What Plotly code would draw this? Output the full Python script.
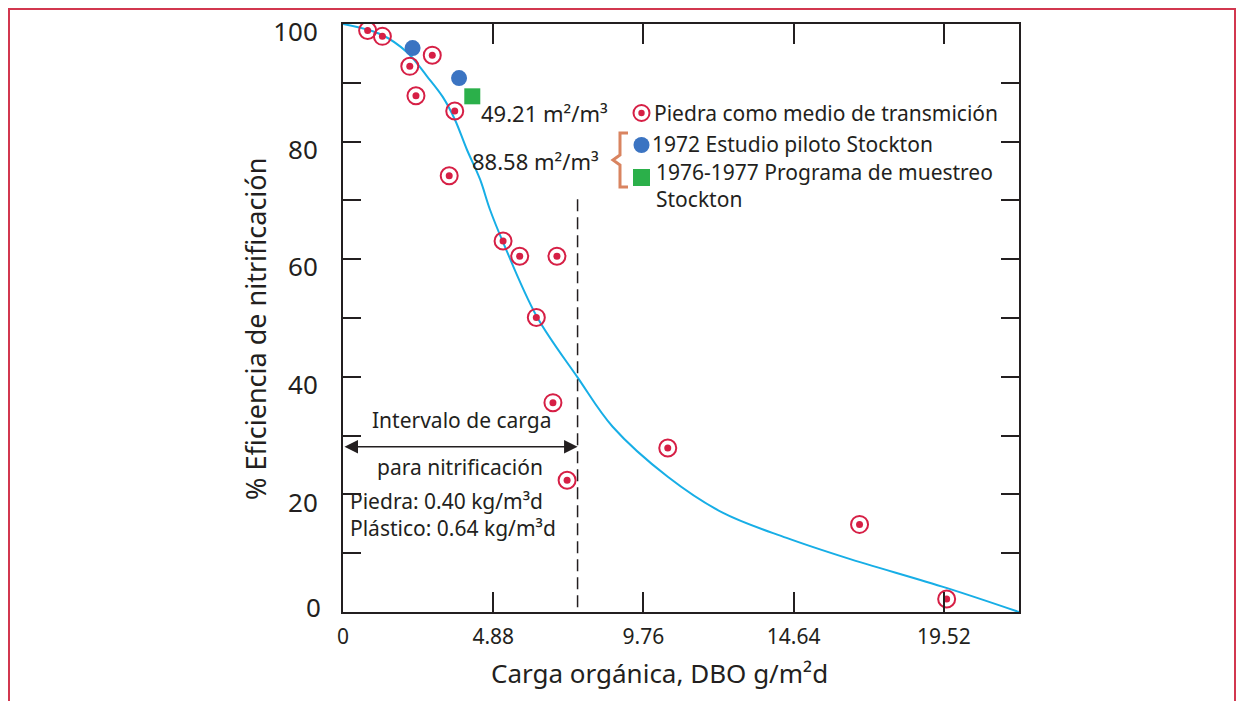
import plotly.graph_objects as go

# ---------------- data ----------------
piedra_x = [0.80, 1.28, 2.17, 2.90, 2.37, 3.63, 3.45, 5.20, 5.74, 6.95, 6.28, 6.82, 7.28, 10.55, 16.78, 19.61]
piedra_y = [98.9, 97.9, 92.8, 94.7, 87.8, 85.2, 74.2, 63.1, 60.5, 60.5, 50.1, 35.6, 22.4, 27.9, 14.9, 2.2]

piloto_x = [2.26, 3.77]
piloto_y = [95.9, 90.8]

muestreo_x = [4.20]
muestreo_y = [87.7]

curve_x = [0.0, 1.20, 2.08, 2.73, 3.24, 3.63, 4.02, 4.45, 4.77, 5.19, 6.29, 7.62, 8.76, 10.55, 12.33, 14.41, 16.35, 19.60, 21.96]
curve_y = [100.0, 98.3, 95.2, 91.1, 87.6, 83.8, 78.7, 73.6, 68.5, 63.0, 50.3, 39.9, 31.5, 23.0, 16.9, 12.6, 9.2, 4.1, 0.0]

limite_x = 7.62
limite_top = 70.2
flecha_y = 28.1

x_ticks = [0, 4.88, 9.76, 14.64, 19.52]
x_ticktext = ["0", "4.88", "9.76", "14.64", "19.52"]
y_ticks = [0, 10, 20, 30, 40, 50, 60, 70, 80, 90, 100]
y_ticktext = ["", "", "20", "", "40", "", "60", "", "80", "", "100"]
y_zero_label = "0"

X_RANGE = [0, 21.96]
Y_RANGE = [0, 100]

# ---------------- geometry (screen pixels; page body has an 8px margin) ----------------
OFF = 8
W, H = 1244 - 2 * OFF, 709 - 2 * OFF
L, R, T, B = 343, 1019, 24, 612


def px(xp):
    return (xp - L) / (R - L)


def py(yp):
    return (B - yp) / (B - T)


RED = "#d61f45"
FRAME = "#d2374f"
BLUE = "#3b74c2"
GREEN = "#2bb04a"
CYAN = "#17aee6"
DARK = "#231f20"
ORANGE = "#d98460"
FONT = "Noto Sans"

fig = go.Figure()

fig.add_trace(go.Scatter(x=curve_x, y=curve_y, mode="lines",
                         line=dict(color=CYAN, width=2, shape="spline", smoothing=1.0),
                         showlegend=False, hoverinfo="skip"))

fig.add_trace(go.Scatter(x=[limite_x, limite_x], y=[limite_top, 0], mode="lines",
                         line=dict(color=DARK, width=1.5, dash="12px,6px"),
                         showlegend=False, hoverinfo="skip"))

fig.add_trace(go.Scatter(x=piedra_x, y=piedra_y, mode="markers",
                         marker=dict(symbol="circle-open", size=17, color=RED, line=dict(width=2, color=RED)),
                         name="Piedra como medio de transmición", showlegend=False))
fig.add_trace(go.Scatter(x=piedra_x, y=piedra_y, mode="markers",
                         marker=dict(symbol="circle", size=7, color=RED),
                         showlegend=False, hoverinfo="skip"))

fig.add_trace(go.Scatter(x=piloto_x, y=piloto_y, mode="markers",
                         marker=dict(symbol="circle", size=16, color=BLUE),
                         name="1972 Estudio piloto Stockton", showlegend=False))

fig.add_trace(go.Scatter(x=muestreo_x, y=muestreo_y, mode="markers",
                         marker=dict(symbol="square", size=16, color=GREEN),
                         name="1976-1977 Programa de muestreo Stockton", showlegend=False))

shapes = []
# outer red frame
shapes.append(dict(type="rect", xref="paper", yref="paper",
                   x0=px(9), x1=px(1235), y0=py(760), y1=py(9),
                   line=dict(color=FRAME, width=2), fillcolor="rgba(0,0,0,0)", layer="below"))


def circ(cx, cy, r, **kw):
    return dict(type="circle", xref="paper", yref="paper",
                x0=px(cx - r), x1=px(cx + r), y0=py(cy + r), y1=py(cy - r), **kw)


# legend icons
shapes.append(circ(641.5, 113, 8, line=dict(color=RED, width=2), fillcolor="white"))
shapes.append(circ(641.5, 113, 3.2, line=dict(color=RED, width=0), fillcolor=RED))
shapes.append(circ(641.5, 145, 8, line=dict(color=BLUE, width=0), fillcolor=BLUE))
shapes.append(dict(type="rect", xref="paper", yref="paper",
                   x0=px(633), x1=px(650), y0=py(186), y1=py(169),
                   line=dict(width=0), fillcolor=GREEN))

# orange bracket
pts = [(628, 133), (620, 133), (620, 155), (613, 160), (620, 165), (620, 187), (628, 187)]
path = "M " + " L ".join(f"{px(a):.5f},{py(b):.5f}" for a, b in pts)
shapes.append(dict(type="path", xref="paper", yref="paper", path=path,
                   line=dict(color=ORANGE, width=3)))

annotations = []


def txt(text, xp, yp, size=21, xanchor="left", **kw):
    annotations.append(dict(text=text, xref="paper", yref="paper", x=px(xp), y=py(yp),
                            xanchor=xanchor, yanchor="middle", showarrow=False,
                            borderpad=0, align=xanchor if xanchor != "center" else "center",
                            font=dict(family=FONT, size=size, color=DARK), **kw))


# legend texts
txt("Piedra como medio de transmición", 653, 113, size=21)
txt("1972 Estudio piloto Stockton", 651, 144, size=21)
txt("1976-1977 Programa de muestreo<br>Stockton", 655, 185.5, size=21)

# specific surface labels
txt("49.21 m²/m³", 480, 113, size=22)
txt("88.58 m²/m³", 471, 161, size=22)

# loading interval texts
txt("Intervalo de carga", 461, 420, size=21, xanchor="center")
txt("para nitrificación", 459.5, 467, size=21, xanchor="center")
txt("Piedra: 0.40 kg/m³d<br>Plástico: 0.64 kg/m³d", 349, 514, size=21)

# y-axis zero label (sits slightly above the axis corner in the reference)
txt(y_zero_label, 322, 607, size=26, xanchor="right")

# axis titles
txt("Carga orgánica, DBO g/m²d", 659, 673, size=26, xanchor="center")
annotations.append(dict(text="% Eficiencia de nitrificación", xref="paper", yref="paper",
                        x=px(255), y=py(329), xanchor="center", yanchor="middle",
                        textangle=-90, showarrow=False,
                        font=dict(family=FONT, size=27, color=DARK)))

# double-headed arrow
annotations.append(dict(x=limite_x, y=flecha_y, ax=0, ay=flecha_y,
                        xref="x", yref="y", axref="x", ayref="y",
                        text="", showarrow=True, arrowhead=2, startarrowhead=2,
                        arrowside="end+start", arrowsize=1.8, startarrowsize=1.8,
                        arrowwidth=1.5, arrowcolor=DARK, standoff=0, startstandoff=0))

fig.update_layout(
    width=W, height=H,
    margin=dict(l=L - OFF, r=(W + OFF) - R, t=T - OFF, b=(H + OFF) - B, autoexpand=False),
    paper_bgcolor="white", plot_bgcolor="white",
    shapes=shapes, annotations=annotations,
    showlegend=False,
    xaxis=dict(range=X_RANGE, tickvals=x_ticks, ticktext=x_ticktext, automargin=False,
               ticks="inside", ticklen=20, tickwidth=1.5, tickcolor=DARK,
               showline=True, linecolor=DARK, linewidth=2, mirror="ticks",
               showgrid=False, zeroline=False,
               tickfont=dict(family=FONT, size=21, color=DARK), ticklabelstandoff=5),
    yaxis=dict(range=Y_RANGE, tickvals=y_ticks, ticktext=y_ticktext, automargin=False,
               ticks="inside", ticklen=18, tickwidth=1.5, tickcolor=DARK,
               showline=True, linecolor=DARK, linewidth=2, mirror="ticks",
               showgrid=False, zeroline=False, ticklabelshift=8, ticklabeloverflow="allow",
               tickfont=dict(family=FONT, size=26, color=DARK), ticklabelstandoff=18),
)

fig.write_html("out.html")
